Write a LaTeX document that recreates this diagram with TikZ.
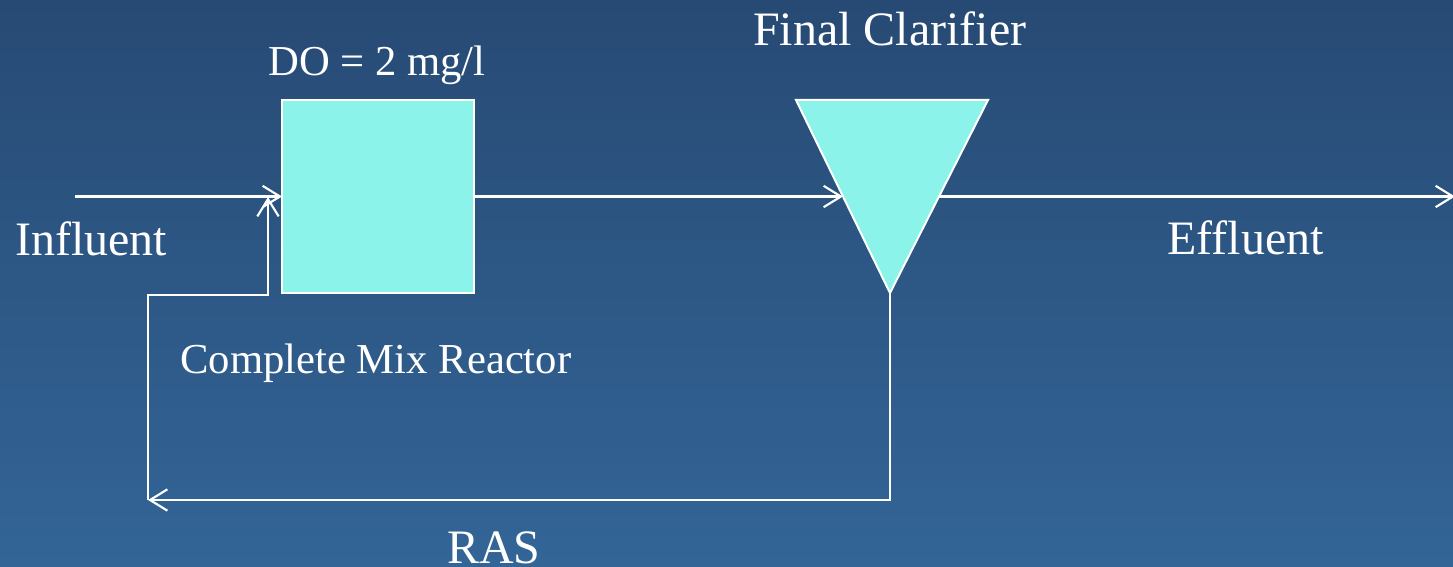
\documentclass[tikz,border=0pt]{standalone}
\usepackage{fontspec}
\setmainfont{Liberation Serif}
\usetikzlibrary{arrows.meta,calc}
\definecolor{bgtop}{RGB}{39,74,116}
\definecolor{bgbot}{RGB}{51,101,151}
\definecolor{tank}{RGB}{140,243,234}
\begin{document}
\begin{tikzpicture}[x=0.75pt,y=-0.75pt,
  flow/.style={draw=white,line width=1.6pt},
  tip/.style={-{Straight Barb[length=13pt,width=16pt]}},
  tankstyle/.style={fill=tank,draw=white,line width=1.5pt},
  big/.style={text=white,font=\fontsize{36}{40}\selectfont,inner sep=0pt},
  small/.style={text=white,font=\fontsize{32}{36}\selectfont,inner sep=0pt}]
  % background
  \shade[top color=bgtop,bottom color=bgbot] (0,0) rectangle (1453,567);
  \useasboundingbox (0,0) rectangle (1453,567);

  % complete mix reactor
  \node[tankstyle,minimum width=144pt,minimum height=144.75pt,inner sep=0pt,outer sep=0pt]
    (reactor) at (378,196.5) {};

  % final clarifier
  \coordinate (cTL) at (796,100);
  \coordinate (cTR) at (988,100);
  \coordinate (cB) at (890,293);
  \filldraw[tankstyle] (cTL) -- (cTR) -- (cB) -- cycle;
  \coordinate (cIn) at ($(cTL)!0.5!(cB)$);
  \coordinate (cOut) at ($(cTR)!0.5!(cB)$);

  % flow lines
  \coordinate (inf) at (75,196.5);
  \coordinate (eff) at (1455,196.5);
  \draw[flow,tip] (inf) -- (reactor.west);
  \draw[flow,tip] (reactor.east) -- (cIn);
  \draw[flow,tip] (cOut) -- (eff);

  % return activated sludge loop
  \coordinate (rasR) at (890,500);
  \coordinate (rasL) at (148,500);
  \coordinate (retC) at (148,295);
  \coordinate (retK) at (268,295);
  \coordinate (retIn) at (268,197);
  \draw[flow,tip] (cB) -- (rasR) -- (rasL);
  \draw[flow,tip] (rasL) -- (retC) -- (retK) -- (retIn);

  % labels
  \node[big,anchor=base west] (lfin) at (753,46) {Final Clarifier};
  \node[small,anchor=base west] (ldo) at (268,76) {DO = 2 mg/l};
  \node[big,anchor=base west] (linf) at (15,255) {Influent};
  \node[big,anchor=base west] (leff) at (1167,254) {Effluent};
  \node[small,anchor=base west] (lcmr) at (180,373) {Complete Mix Reactor};
  \node[big,anchor=base west] (lras) at (447,563) {RAS};
\end{tikzpicture}
\end{document}
